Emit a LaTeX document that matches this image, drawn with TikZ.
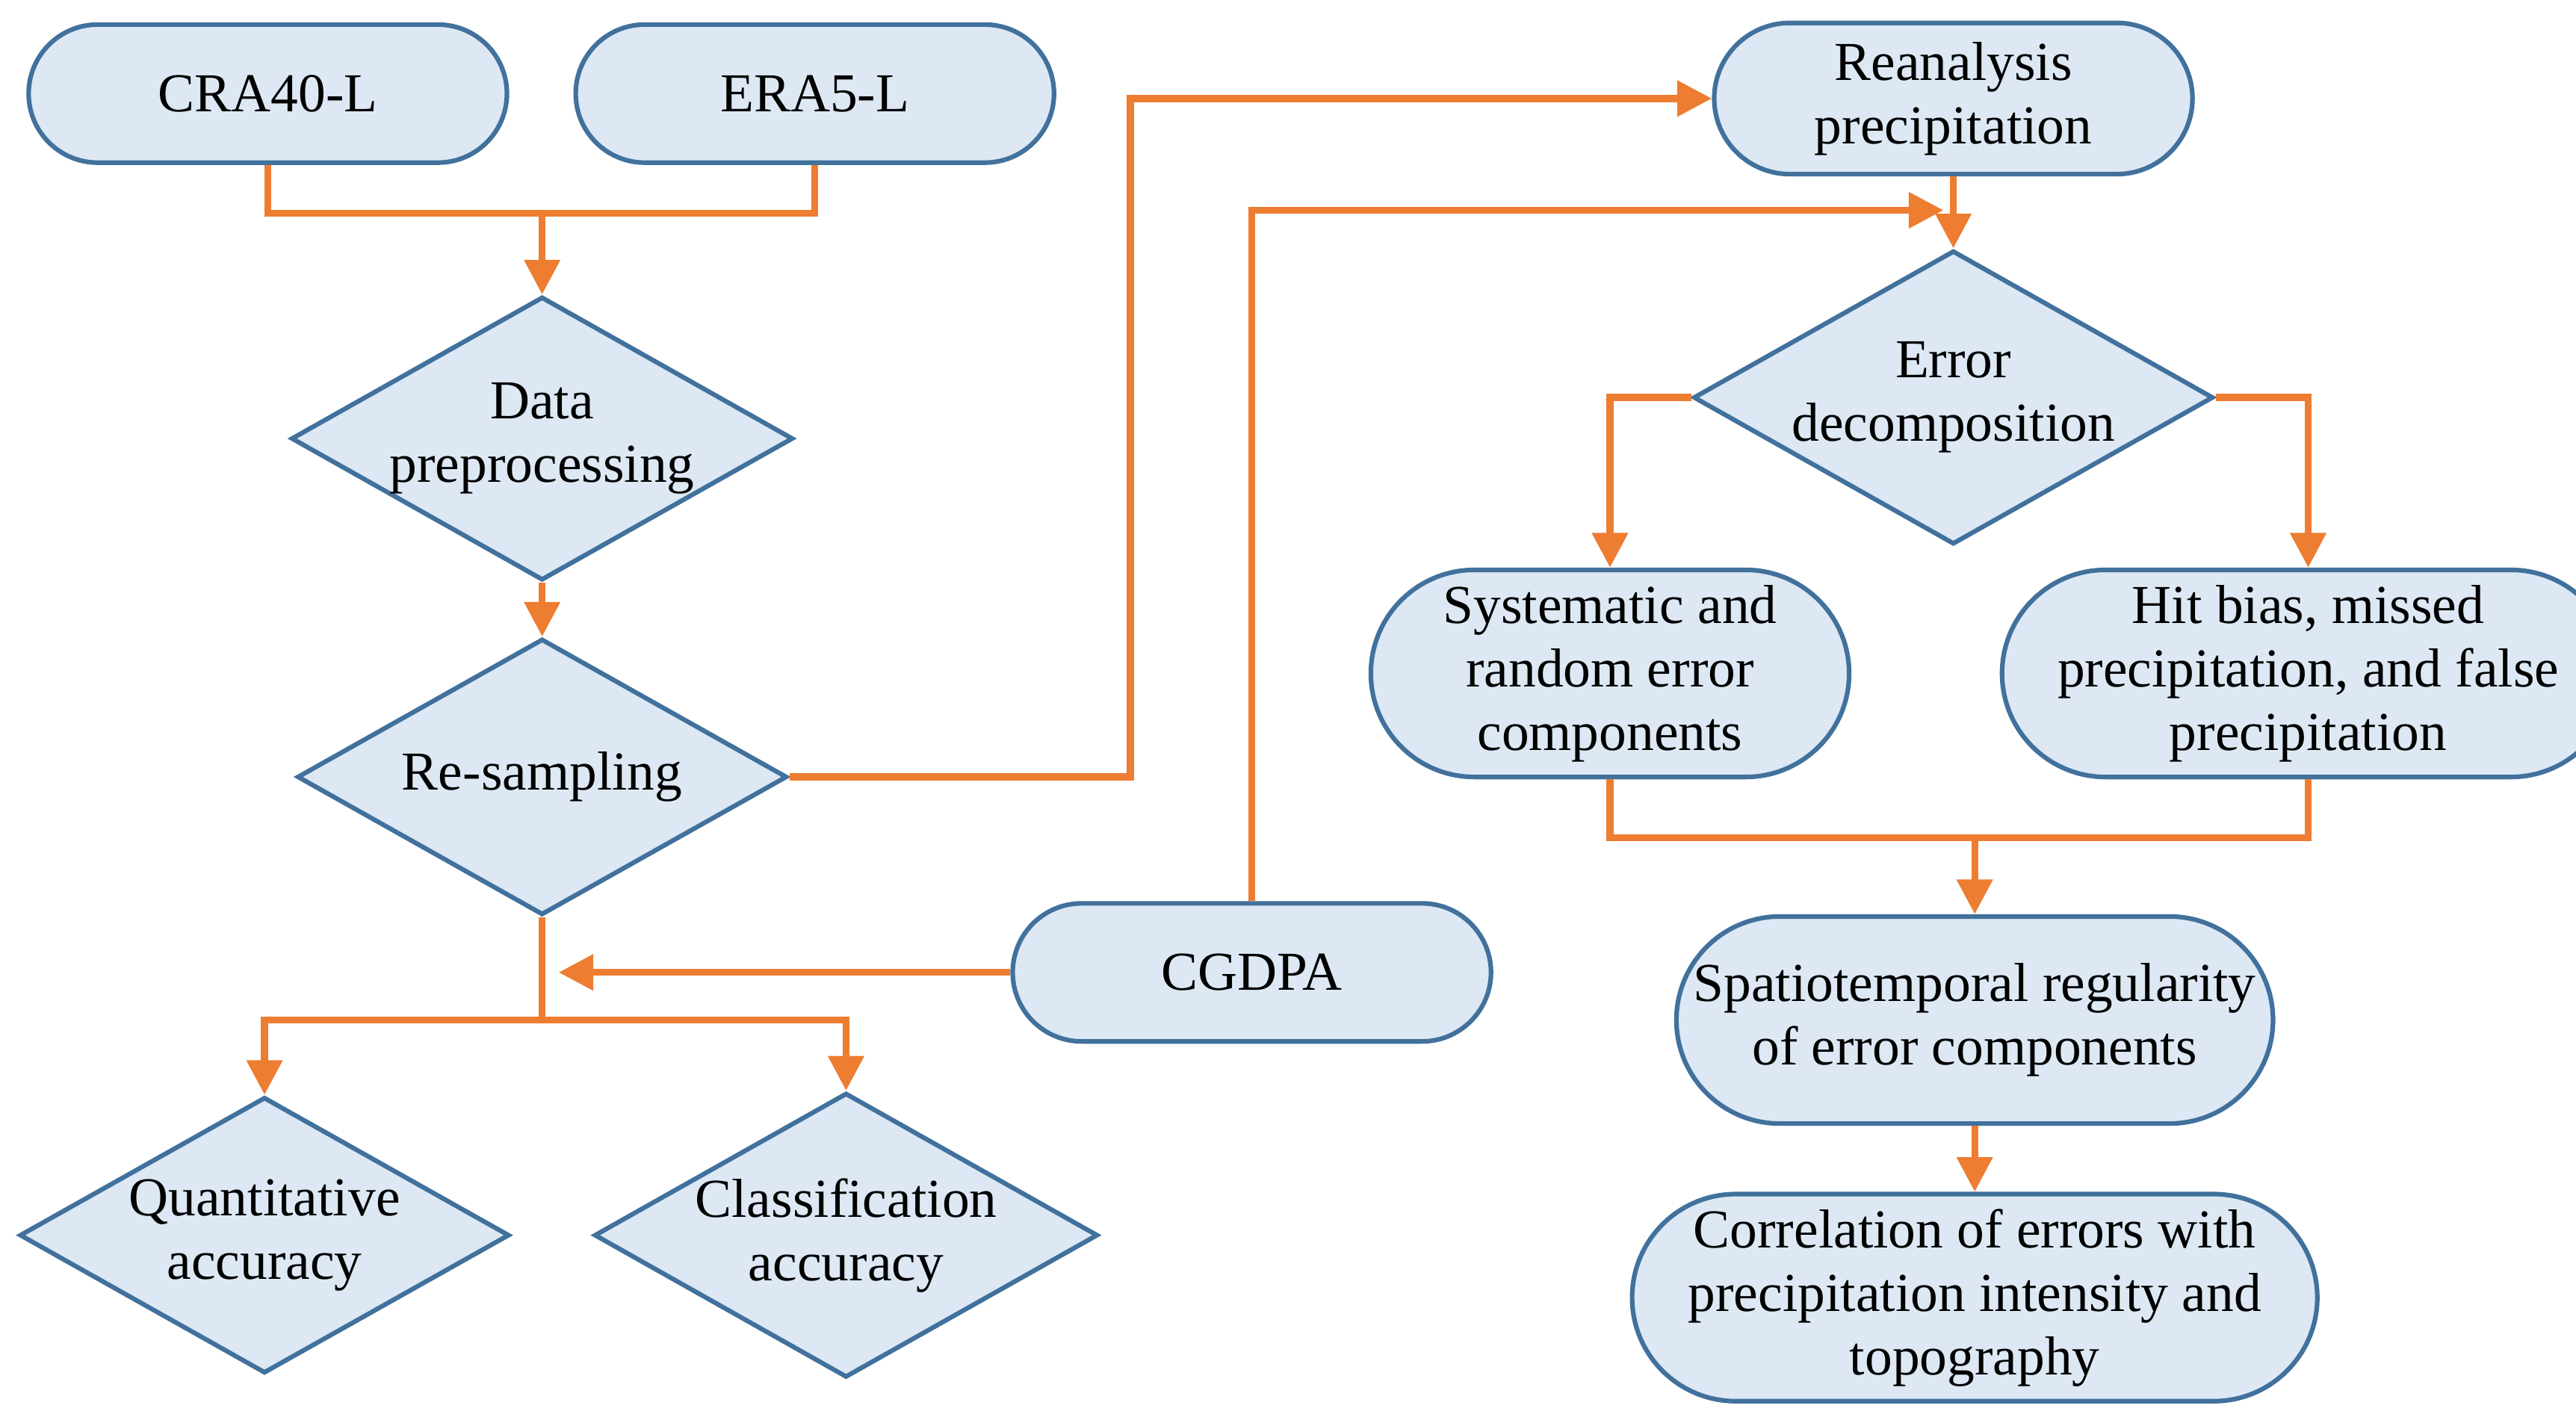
\documentclass[tikz,border=0pt]{standalone}
\usepackage{fontspec}
\setmainfont{Liberation Serif}
\usetikzlibrary{shapes.geometric, shapes.misc, arrows.meta}

\definecolor{boxfill}{RGB}{221,232,244}
\definecolor{boxline}{RGB}{65,113,156}
\definecolor{flow}{RGB}{237,125,49}

\tikzset{
	pill/.style = {rounded rectangle, draw = boxline, fill = boxfill, thick,
		minimum width = 2.98cm, minimum height = 0.84cm, align = center,
		inner sep = 1pt},
	rhomb/.style = {diamond, draw = boxline, fill = boxfill, thick, aspect = 1.77,
		minimum width = 2.98cm, minimum height = 1.68cm, align = center,
		inner sep = 0pt},
	link/.style = {flow, line width = 1.2pt},
	arr/.style = {link, -{Triangle[length = 6pt, width = 6pt]}}
}

\begin{document}
\begin{tikzpicture}[x = 0.01cm, y = -0.01cm,
	font = \fontsize{9.5}{11}\selectfont]
\useasboundingbox (0, 0) rectangle (1568, 868);

\node[pill] (cra) at (163, 57) {CRA40-L};
\node[pill] (era) at (496, 57) {ERA5-L};
\node[rhomb] (prep) at (330, 267) {Data\\preprocessing};
\node[rhomb] (resamp) at (330, 473) {Re-sampling};
\node[rhomb] (quant) at (161, 752) {Quantitative\\accuracy};
\node[rhomb] (class) at (515, 752) {Classification\\accuracy};
\node[pill] (cgdpa) at (762, 592) {CGDPA};

\node[pill, minimum height = 0.92cm] (rean) at (1189, 60) {Reanalysis\\precipitation};
\node[rhomb] (decomp) at (1189, 242) {Error\\decomposition};
\node[pill, minimum height = 1.26cm] (sysrand) at (980, 410)
	{Systematic and\\random error\\components};
\node[pill, minimum height = 1.26cm] (hitbias) at (1405, 410)
	{Hit bias, missed\\precipitation, and false\\precipitation};
\node[pill, minimum width = 3.7cm, minimum height = 1.26cm] (spatio) at (1202, 621)
	{Spatiotemporal regularity\\of error components};
\node[pill, minimum width = 3.7cm, minimum height = 1.26cm] (corr) at (1202, 790)
	{Correlation of errors with\\precipitation intensity and\\topography};

% junctions
\coordinate (j1) at (330, 130);
\coordinate (j2) at (330, 621);
\coordinate (j3) at (1202, 510);
\coordinate (m1) at (340, 592);
\coordinate (m2) at (1183, 128);

\draw[link] (cra.south) |- (j1) -| (era.south);
\draw[arr] (j1) -- (prep.north);
\draw[arr] (prep.south) -- (resamp.north);
\draw[link] (resamp.south) -- (j2);
\draw[arr] (j2) -| (quant.north);
\draw[arr] (j2) -| (class.north);
\draw[arr] (cgdpa.west) -- (m1);
\draw[arr] (resamp.east) -- (688, 473) |- (rean.west);
\draw[arr] (cgdpa.north) |- (m2);
\draw[arr] (rean.south) -- (decomp.north);
\draw[arr] (decomp.west) -| (sysrand.north);
\draw[arr] (decomp.east) -| (hitbias.north);
\draw[link] (sysrand.south) |- (j3) -| (hitbias.south);
\draw[arr] (j3) -- (spatio.north);
\draw[arr] (spatio.south) -- (corr.north);
\end{tikzpicture}
\end{document}
